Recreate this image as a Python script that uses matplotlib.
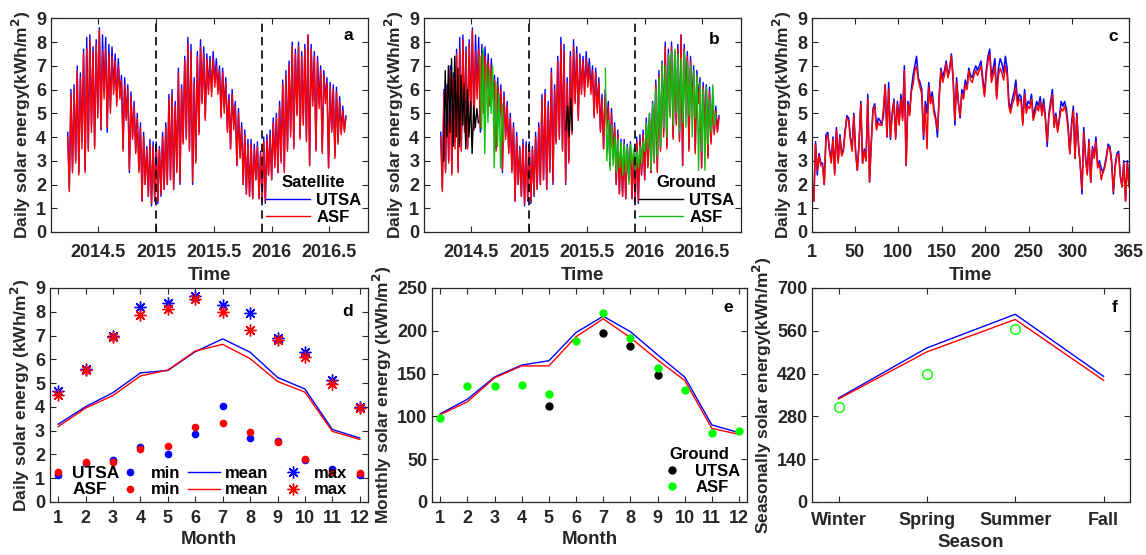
import matplotlib.pyplot as plt
from matplotlib.lines import Line2D
import numpy as np

plt.rcParams['font.family'] = ['Liberation Sans', 'DejaVu Sans']
plt.rcParams['font.weight'] = 'bold'
plt.rcParams['font.size'] = 12
plt.rcParams['xtick.labelsize'] = 13
plt.rcParams['ytick.labelsize'] = 13
plt.rcParams['axes.labelsize'] = 12.5
plt.rcParams['axes.labelweight'] = 'bold'
plt.rcParams['axes.linewidth'] = 0.9
plt.rcParams['xtick.direction'] = 'in'
plt.rcParams['ytick.direction'] = 'in'
plt.rcParams['xtick.top'] = True
plt.rcParams['ytick.right'] = True
plt.rcParams['xtick.major.size'] = 4
plt.rcParams['ytick.major.size'] = 4
dark = '#262626'
plt.rcParams['axes.edgecolor'] = dark
plt.rcParams['xtick.color'] = dark
plt.rcParams['ytick.color'] = dark
plt.rcParams['axes.labelcolor'] = dark

# ---- daily satellite data (5-day samples), decimal year ----
sat_start = 2014.235
step = 5 / 365.25
sat_utsa = [4.2, 1.8, 6.0, 2.6, 6.2, 3.0, 7.0, 2.5, 6.7, 3.8,
            7.7, 2.6, 8.2, 3.5, 8.3, 4.5, 7.8, 3.6, 8.1, 5.0,
            8.6, 4.3, 8.3, 5.9, 8.2, 4.2, 7.9, 5.2, 7.8, 6.0,
            7.5, 5.5, 7.3, 5.8, 6.6, 3.5, 6.5, 4.8, 6.2, 2.5,
            5.9, 4.0, 5.5, 3.4, 5.0, 2.6, 4.6, 1.3, 4.2, 2.0,
            3.6, 1.5, 3.9, 1.1, 3.8, 1.3, 3.8, 1.2, 3.6, 1.5,
            4.2, 1.8, 4.6, 2.0, 5.8, 2.2, 6.0, 1.8, 5.5, 2.6,
            6.9, 2.0, 6.2, 3.8, 7.4, 4.0, 8.2, 3.5, 7.9, 2.0,
            6.5, 3.0, 7.6, 4.2, 8.1, 5.5, 7.8, 4.8, 7.5, 6.0,
            7.4, 5.9, 7.6, 6.3, 7.3, 6.0, 7.0, 4.9, 6.9, 5.2,
            6.5, 4.3, 5.8, 3.5, 6.0, 4.5, 5.5, 2.8, 5.2, 3.2,
            4.6, 2.0, 4.3, 1.6, 3.9, 1.5, 3.9, 1.4, 3.7, 2.2,
            3.8, 1.4, 3.4, 1.3, 4.0, 1.2, 4.1, 2.4, 4.3, 2.2,
            4.8, 2.8, 5.0, 2.5, 5.5, 3.0, 6.4, 2.6, 6.8, 3.5,
            7.2, 4.2, 8.0, 3.6, 7.7, 5.0, 8.0, 4.0, 7.6, 4.6,
            7.9, 3.9, 8.3, 2.8, 7.9, 5.5, 7.6, 3.5, 7.4, 5.4,
            7.0, 3.4, 6.8, 5.6, 6.5, 2.7, 6.3, 4.3, 6.2, 3.2,
            6.1, 3.8, 5.7, 4.2, 5.3, 4.3, 4.9]
sat_asf = [4.0, 1.7, 5.8, 2.5, 6.0, 2.9, 6.8, 2.4, 6.5, 3.5,
           7.5, 2.5, 7.7, 3.4, 8.1, 4.2, 7.6, 3.5, 7.9, 4.8,
           8.5, 4.3, 7.6, 5.6, 7.7, 4.4, 7.5, 5.0, 7.4, 5.8,
           7.2, 5.3, 7.0, 5.6, 6.4, 3.4, 6.2, 4.7, 6.0, 2.6,
           5.7, 3.9, 5.3, 3.3, 4.8, 2.5, 4.4, 1.3, 4.0, 2.0,
           3.5, 1.5, 3.7, 1.2, 3.6, 1.4, 3.6, 1.3, 3.5, 1.6,
           4.0, 1.8, 4.4, 2.0, 5.6, 2.2, 5.8, 1.8, 5.3, 2.5,
           6.7, 2.1, 6.0, 3.7, 7.2, 3.9, 7.9, 3.4, 7.6, 2.1,
           6.3, 2.9, 7.4, 4.1, 7.8, 5.4, 7.5, 4.7, 7.3, 5.8,
           7.2, 5.7, 7.3, 6.1, 7.0, 5.8, 6.8, 4.8, 6.7, 5.0,
           6.3, 4.2, 5.6, 3.5, 5.8, 4.3, 5.3, 2.8, 5.0, 3.1,
           4.4, 2.0, 4.1, 1.6, 3.7, 1.5, 3.7, 1.4, 3.5, 2.2,
           3.6, 1.4, 3.3, 1.3, 3.8, 1.3, 3.9, 2.4, 4.1, 2.2,
           4.6, 2.7, 4.8, 2.5, 5.3, 2.9, 6.2, 2.5, 6.6, 3.4,
           7.0, 4.0, 7.8, 3.5, 7.5, 4.9, 7.8, 3.9, 7.4, 4.5,
           7.7, 3.8, 8.3, 2.8, 7.7, 5.3, 7.4, 3.4, 7.2, 5.2,
           6.8, 3.3, 6.6, 5.4, 6.3, 2.7, 6.1, 4.2, 6.0, 3.1,
           5.9, 3.7, 5.5, 4.1, 5.1, 4.2, 4.8]

# ---- ground measurements (5-day samples) ----
g_utsa_1_start = 2014.26
g_utsa_1 = [3.0, 6.8, 4.0, 7.0, 4.2, 7.3, 3.6, 7.4, 4.0, 6.9, 3.6, 6.6,
            4.5, 6.2, 3.5, 6.0, 4.0, 5.5, 3.3, 5.3, 4.4, 5.2, 4.6]
g_utsa_2_start = 2015.32
g_utsa_2 = [4.3, 5.3, 4.0, 5.6, 4.3]
g_asf_1_start = 2014.575
g_asf_1 = [7.4, 4.3, 7.7, 3.3, 7.0, 4.6, 6.8, 5.0, 7.0, 2.7, 6.3, 3.6,
           5.8, 2.7, 5.4, 3.8]
g_asf_2_start = 2015.66
g_asf_2 = [6.9, 3.0, 4.7, 2.6, 4.5, 2.8, 4.0, 2.5, 3.9, 2.7,
           3.8, 2.4, 3.7, 2.5, 3.6, 2.0, 3.7, 2.8, 3.5, 2.6, 3.4, 2.7, 3.6, 2.9, 3.8,
           3.4, 4.6, 3.5, 5.0, 2.6, 5.4, 3.0, 6.0, 3.2, 6.5, 3.6,
           7.1, 4.4, 7.0, 4.0, 7.5, 4.8, 7.6, 4.5, 7.7, 5.0, 7.5, 4.2, 7.3, 4.6,
           7.6, 4.4, 7.2, 4.9, 7.0, 4.0, 6.8, 4.8,
           6.6, 2.6, 6.3, 3.4, 6.0, 2.6, 6.1, 3.7, 5.6, 4.2, 6.2, 4.5, 5.0]
year_ticks = [2014.5, 2015, 2015.5, 2016, 2016.5]
year_labels = ['2014.5', '2015', '2015.5', '2016', '2016.5']
year_marks = [2015.0, 2015.92]

# ---- panel c: one year, every second day ----
c_utsa = [2.0, 1.3, 3.8, 2.4, 3.3, 2.9, 2.9, 2.0, 4.1, 4.2, 3.5, 3.0, 4.0, 2.5, 4.4,
          3.0, 4.1, 3.3, 3.5, 4.3, 4.9, 4.8, 4.0, 3.5, 5.0, 3.4, 2.6, 3.8, 5.5, 2.9,
          3.5, 3.0, 5.8, 2.1, 3.8, 5.2, 5.4, 4.4, 4.8, 4.7, 4.5, 4.9, 6.2, 4.0, 6.3,
          3.9, 5.0, 5.6, 4.0, 5.5, 4.6, 5.8, 4.8, 7.0, 2.8, 5.5, 5.0, 6.0, 6.6, 7.0,
          7.4, 6.5, 6.3, 6.0, 3.9, 5.5, 5.0, 6.3, 5.5, 5.9, 5.2, 4.8, 4.0, 5.8, 6.9,
          6.5, 6.8, 7.2, 6.6, 6.9, 7.5, 6.5, 4.5, 6.5, 5.5, 4.8, 6.0, 5.8, 6.4, 6.1,
          6.9, 6.6, 6.5, 6.8, 7.0, 6.8, 7.0, 7.2, 6.5, 5.8, 6.8, 7.4, 7.7, 6.5, 6.9,
          7.3, 5.7, 6.9, 7.3, 7.1, 6.7, 7.4, 6.9, 5.5, 5.2, 5.6, 5.9, 6.4, 5.5, 5.8,
          5.7, 4.6, 6.0, 5.2, 5.5, 5.4, 5.8, 4.8, 5.2, 5.5, 5.3, 5.7, 5.0, 5.6, 4.8,
          3.6, 5.0, 5.5, 6.0, 4.5, 5.0, 4.3, 4.8, 5.5, 5.3, 5.5, 5.2, 4.5, 3.3, 4.6,
          5.3, 3.1, 5.0, 3.7, 2.8, 1.6, 4.4, 3.2, 2.5, 3.9, 2.1, 3.6, 3.2, 4.0, 2.8,
          3.0, 2.7, 2.5, 2.8, 3.2, 3.7, 3.6, 3.0, 1.6, 2.8, 3.3, 3.4, 2.4, 1.9, 3.0,
          1.3, 3.0, 2.0]
c_asf = [1.9, 1.3, 3.7, 2.6, 3.2, 2.8, 2.8, 2.0, 3.9, 4.1, 3.4, 2.9, 3.9, 2.4, 4.3,
         2.9, 4.0, 3.2, 3.4, 4.2, 4.8, 4.7, 3.9, 3.4, 4.9, 3.3, 2.6, 3.7, 5.4, 2.9,
         3.4, 3.0, 5.6, 2.1, 3.7, 5.1, 5.3, 4.3, 4.6, 4.5, 4.5, 5.2, 6.2, 4.0, 6.0,
         4.0, 4.9, 5.5, 3.9, 5.4, 4.5, 5.6, 4.7, 6.8, 2.8, 5.4, 4.9, 5.9, 6.2, 6.8,
         7.0, 6.4, 6.1, 5.8, 4.1, 5.3, 3.5, 6.1, 5.4, 5.7, 5.0, 4.7, 4.3, 5.6, 6.8,
         6.3, 6.6, 7.1, 6.5, 6.8, 7.4, 6.4, 4.7, 6.3, 5.4, 4.9, 5.8, 5.6, 6.2, 6.0,
         6.8, 6.4, 6.3, 6.6, 6.8, 6.6, 6.8, 7.0, 6.3, 5.7, 6.6, 7.2, 7.5, 6.3, 6.6,
         7.0, 5.6, 6.6, 6.9, 6.7, 6.4, 7.0, 6.6, 5.3, 5.0, 5.4, 5.6, 6.1, 5.3, 5.6,
         5.5, 4.5, 5.8, 5.0, 5.3, 5.2, 5.6, 4.7, 5.0, 5.3, 5.1, 5.5, 4.9, 5.4, 4.7,
         3.8, 4.9, 5.3, 5.8, 4.4, 4.9, 4.2, 4.7, 5.2, 5.1, 5.3, 5.0, 4.3, 3.3, 4.4,
         5.1, 3.1, 4.9, 3.6, 2.8, 1.8, 4.2, 3.1, 2.4, 3.8, 2.1, 3.5, 3.1, 3.8, 2.7,
         2.9, 2.2, 2.5, 2.7, 3.1, 3.6, 3.5, 2.9, 1.7, 2.7, 3.2, 3.3, 2.3, 1.9, 2.9,
         1.3, 2.9, 1.9]
day_ticks = [1, 50, 100, 150, 200, 250, 300, 365]

# ---- panel d: monthly daily stats ----
months = list(range(1, 13))
utsa_mean = [3.27, 4.01, 4.60, 5.43, 5.53, 6.32, 6.86, 6.30, 5.24, 4.75, 3.05, 2.69]
asf_mean = [3.17, 3.95, 4.48, 5.30, 5.55, 6.35, 6.63, 6.03, 5.07, 4.62, 2.97, 2.63]
utsa_max = [4.65, 5.6, 6.98, 8.18, 8.35, 8.65, 8.3, 7.95, 6.9, 6.3, 5.12, 4.0]
asf_max = [4.5, 5.55, 6.95, 7.88, 8.12, 8.52, 7.98, 7.25, 6.8, 6.1, 4.98, 3.95]
utsa_min = [1.15, 1.65, 1.75, 2.33, 2.02, 2.85, 4.05, 2.7, 2.58, 1.78, 1.4, 1.12]
asf_min = [1.25, 1.67, 1.7, 2.22, 2.35, 3.15, 3.33, 2.95, 2.53, 1.8, 1.27, 1.22]

# ---- panel e: monthly totals ----
sat_utsa_month = [103, 120, 146, 160, 165, 198, 217, 199, 172, 146, 90, 81]
sat_asf_month = [102, 117, 145, 159, 159, 193, 214, 192, 166, 142, 86, 79]
gnd_utsa_month = [np.nan, np.nan, np.nan, np.nan, 112, np.nan, 198, 182, 148,
                  np.nan, np.nan, np.nan]
gnd_asf_month = [98, 136, 135, 137, 126, 188, 221, 192, 157, 131, 81, 83]

# ---- panel f: seasonal totals ----
seasons = ['Winter', 'Spring', 'Summer', 'Fall']
sat_utsa_season = [340, 504, 614, 411]
sat_asf_season = [337, 491, 597, 398]
gnd_asf_season = [311, 420, 566, np.nan]

blue = '#0000FF'
red = '#FF0000'
green_line = '#10C010'
green_dot = '#00FF00'


def series_x(start, vals):
    return start + np.arange(len(vals)) * step


fig = plt.figure(figsize=(11.46, 5.55), dpi=100)
ax_a = fig.add_axes([0.0445, 0.582, 0.2766, 0.385])
ax_b = fig.add_axes([0.370, 0.582, 0.2766, 0.385])
ax_c = fig.add_axes([0.7086, 0.582, 0.2766, 0.385])
ax_d = fig.add_axes([0.0436, 0.0955, 0.2775, 0.3856])
ax_e = fig.add_axes([0.377, 0.0955, 0.2750, 0.3856])
ax_f = fig.add_axes([0.7086, 0.0955, 0.2775, 0.3856])

ylab_daily = 'Daily solar energy(kWh/m$^\\mathbf{2}$)'
leg_kw = dict(frameon=False, prop={'weight': 'bold', 'size': 12},
              title_fontproperties={'weight': 'bold', 'size': 12})

# panel a
ax_a.plot(series_x(sat_start, sat_utsa), sat_utsa, color=blue, lw=1.0, label='UTSA')
ax_a.plot(series_x(sat_start, sat_asf), sat_asf, color=red, lw=1.0, label='ASF')
ax_a.legend(title='Satellite', loc='lower right', handlelength=2.6,
            handletextpad=0.4, labelspacing=0.15, borderaxespad=0.1,
            borderpad=0.3, **leg_kw)

# panel b
ax_b.plot(series_x(sat_start, sat_utsa), sat_utsa, color=blue, lw=1.0)
ax_b.plot(series_x(sat_start, sat_asf), sat_asf, color=red, lw=1.0)
ax_b.plot(series_x(g_utsa_1_start, g_utsa_1), g_utsa_1, color='black', lw=1.0, label='UTSA')
ax_b.plot(series_x(g_utsa_2_start, g_utsa_2), g_utsa_2, color='black', lw=1.0)
ax_b.plot(series_x(g_asf_1_start, g_asf_1), g_asf_1, color=green_line, lw=1.0, label='ASF')
ax_b.plot(series_x(g_asf_2_start, g_asf_2), g_asf_2, color=green_line, lw=1.0)
ax_b.legend(title='Ground', loc='lower right', handlelength=2.6,
            handletextpad=0.4, labelspacing=0.15, borderaxespad=0.1,
            borderpad=0.3, **leg_kw)

for ax in (ax_a, ax_b):
    for xm in year_marks:
        ax.axvline(xm, color='black', ls=(0, (5, 3)), lw=1.2)
    ax.set_xlim(2014.09, 2016.835)
    ax.set_xticks(year_ticks)
    ax.set_xticklabels(year_labels)

# panel c
ax_c.plot(np.linspace(1, 365, len(c_utsa)), c_utsa, color=blue, lw=1.1)
ax_c.plot(np.linspace(1, 365, len(c_asf)), c_asf, color=red, lw=1.1)
ax_c.set_xlim(1, 365)
ax_c.set_xticks(day_ticks)

for ax in (ax_a, ax_b, ax_c):
    ax.set_ylim(0, 9)
    ax.set_yticks(range(10))
    ax.set_xlabel('Time', labelpad=4, fontsize=13.5)
    ax.set_ylabel(ylab_daily, labelpad=2)
    ax.tick_params(axis='x', pad=9)

# panel d
ax_d.plot(months, utsa_mean, color=blue, lw=1.0)
ax_d.plot(months, asf_mean, color=red, lw=1.0)
ax_d.plot(months, utsa_min, 'o', color=blue, ms=4.5)
ax_d.plot(months, asf_min, 'o', color=red, ms=4.5)
star = (8, 2, 0)
ax_d.plot(months, utsa_max, ls='none', marker=star, color=blue, ms=8.5, mew=1.0)
ax_d.plot(months, asf_max, ls='none', marker=star, color=red, ms=8.5, mew=1.0)
ax_d.set_ylim(0, 9)
ax_d.set_yticks(range(10))
ax_d.set_ylabel('Daily solar energy (kWh/m$^\\mathbf{2}$)', labelpad=2)
hd = [Line2D([], [], ls='none', marker='o', color=blue, ms=4.5),
      Line2D([], [], ls='none', marker='o', color=red, ms=4.5),
      Line2D([], [], color=blue, lw=1.0),
      Line2D([], [], color=red, lw=1.0),
      Line2D([], [], ls='none', marker=star, color=blue, ms=8.5, mew=1.0),
      Line2D([], [], ls='none', marker=star, color=red, ms=8.5, mew=1.0)]
ax_d.legend(hd, ['min', 'min', 'mean', 'mean', 'max', 'max'], ncol=3,
            loc='lower left', bbox_to_anchor=(0.17, -0.025), frameon=False,
            handlelength=1.9, handletextpad=0.3, columnspacing=0.5,
            labelspacing=0.1, borderaxespad=0.2,
            prop={'weight': 'bold', 'size': 12})
ax_d.text(0.07, 0.135, 'UTSA', transform=ax_d.transAxes, fontsize=12.5,
          fontweight='bold', va='center', ha='left', color='black')
ax_d.text(0.07, 0.06, 'ASF', transform=ax_d.transAxes, fontsize=12.5,
          fontweight='bold', va='center', ha='left', color='black')

# panel e
ax_e.plot(months, sat_utsa_month, color=blue, lw=1.0)
ax_e.plot(months, sat_asf_month, color=red, lw=1.0)
ax_e.plot(months, gnd_utsa_month, 'o', color='black', ms=5, label='UTSA')
ax_e.plot(months, gnd_asf_month, 'o', color=green_dot, ms=5, label='ASF')
ax_e.set_ylim(0, 250)
ax_e.set_yticks(range(0, 251, 50))
ax_e.set_ylabel('Monthly solar energy (kWh/m$^\\mathbf{2}$)', labelpad=2)
ax_e.legend(title='Ground', loc='lower right', handlelength=1.6,
            handletextpad=0.6, labelspacing=0.1, borderaxespad=0.1,
            borderpad=0.3, **leg_kw)

for ax in (ax_d, ax_e):
    ax.set_xlim(0.7, 12.3)
    ax.set_xticks(months)
    ax.set_xlabel('Month', labelpad=3, fontsize=13.5)
    ax.tick_params(axis='x', pad=6)

# panel f
sx = np.arange(1, len(seasons) + 1)
ax_f.plot(sx, sat_utsa_season, color=blue, lw=1.0)
ax_f.plot(sx, sat_asf_season, color=red, lw=1.0)
ax_f.plot(sx, gnd_asf_season, 'o', mfc='none', mec=green_dot, ms=7, mew=1.0)
ax_f.set_xlim(0.7, 4.3)
ax_f.set_xticks(sx)
ax_f.set_xticklabels(seasons)
ax_f.set_ylim(0, 700)
ax_f.set_yticks(range(0, 701, 140))
ax_f.set_xlabel('Season', labelpad=4, fontsize=13.5)
ax_f.set_ylabel('Seasonally solar energy(kWh/m$^\\mathbf{2}$)', labelpad=2)
ax_f.tick_params(axis='x', pad=7)

letters = [(ax_a, 'a', 0.937, 0.918), (ax_b, 'b', 0.915, 0.90),
           (ax_c, 'c', 0.95, 0.915), (ax_d, 'd', 0.937, 0.89),
           (ax_e, 'e', 0.94, 0.907), (ax_f, 'f', 0.953, 0.907)]
for ax, t, x, y in letters:
    ax.text(x, y, t, transform=ax.transAxes, fontsize=12.5, fontweight='bold',
            ha='center', va='center', color='black')

fig.savefig('out.png', dpi=100)
